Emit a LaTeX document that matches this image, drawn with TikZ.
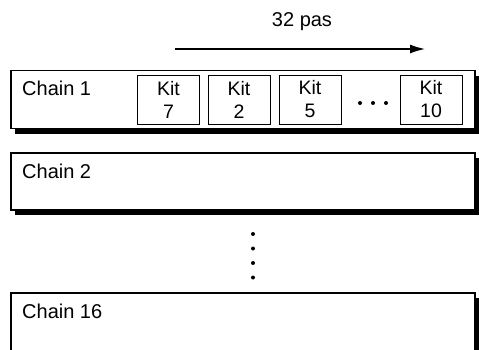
\documentclass[tikz,border=0pt]{standalone}
\usepackage{fontspec}
\setmainfont{Liberation Sans}
\usetikzlibrary{arrows.meta,shadows}
\begin{document}
\begin{tikzpicture}[x=1pt,y=-1pt,
  chainbox/.style={draw=black, line width=1.5pt, fill=white, rectangle, inner sep=0pt,
    minimum width=464pt, anchor=north west,
    drop shadow={shadow xshift=4pt, shadow yshift=-5pt, fill=black, opacity=1}},
  kitbox/.style={draw=black, line width=0.8pt, fill=white, rectangle, inner sep=0pt,
    minimum width=62pt, minimum height=49pt, align=center,
    font=\fontsize{19.5}{23}\selectfont},
  lbl/.style={anchor=west, inner sep=0pt, font=\fontsize{20}{23}\selectfont},
  dot/.style={circle, fill=black, inner sep=0pt, minimum size=4pt}]
\clip (0,0) rectangle (479,350);
\useasboundingbox (0,0) rectangle (479,350);
% arrow
\coordinate (as) at (175,49);
\coordinate (ae) at (425,49);
\draw[line width=1.3pt, -{Latex[length=15pt,width=9pt]}] (as) -- (ae);
\node[font=\fontsize{20}{23}\selectfont, inner sep=0pt] (steps) at (302,22) {32 pas};
% chains
\node[chainbox, minimum height=58pt] (c1) at (10,70) {};
\node[lbl] (c1t) at (22,88) {Chain 1};
\node[chainbox, minimum height=57pt] (c2) at (10,152) {};
\node[lbl] (c2t) at (22,171) {Chain 2};
\node[chainbox, minimum height=70pt] (c16) at (10,292) {};
\node[lbl] (c16t) at (22,311) {Chain 16};
% kits
\node[kitbox] (k7) at (168.5,99.5) {Kit\\7};
\node[kitbox] (k2) at (239,99.5) {Kit\\2};
\node[kitbox] (k5) at (310,99.5) {Kit\\5};
\node[kitbox] (k10) at (431,99.5) {Kit\\10};
% horizontal dots
\node[dot] (h1) at (360,103) {};
\node[dot] (h2) at (373,103) {};
\node[dot] (h3) at (386,103) {};
% vertical dots
\node[dot] (v1) at (253,234) {};
\node[dot] (v2) at (253,248.5) {};
\node[dot] (v3) at (253,263) {};
\node[dot] (v4) at (253,277.5) {};
\end{tikzpicture}
\end{document}
